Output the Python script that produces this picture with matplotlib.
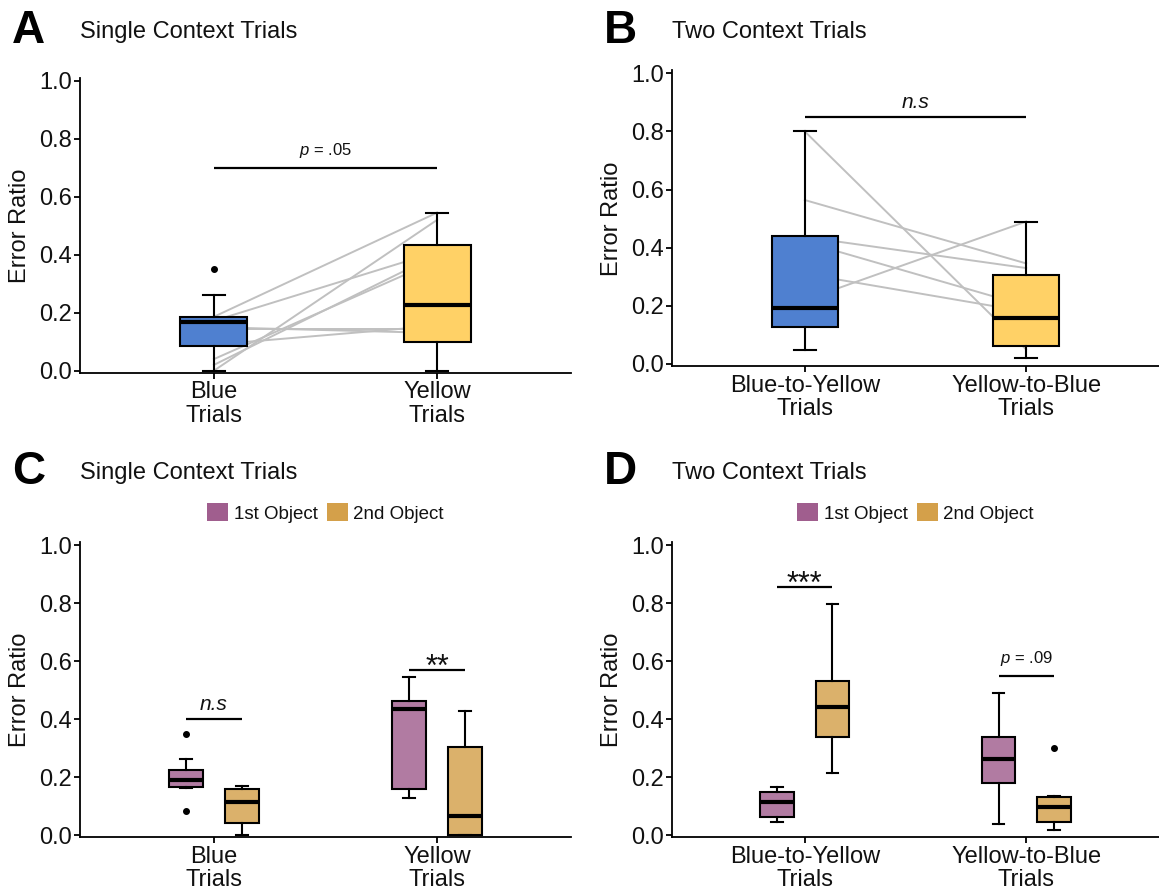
import matplotlib
matplotlib.use('Agg')
import matplotlib.pyplot as plt
from matplotlib.patches import Patch

plt.rcParams['font.family'] = ['Liberation Sans', 'DejaVu Sans']
plt.rcParams['mathtext.fontset'] = 'custom'
plt.rcParams['mathtext.it'] = 'Liberation Sans:italic'
plt.rcParams['mathtext.rm'] = 'Liberation Sans'

# ---------------- Data ----------------
# Panel A: Single context trials
a_categories = ['Blue\nTrials', 'Yellow\nTrials']
a_q1 = [0.086, 0.098]
a_med = [0.168, 0.226]
a_q3 = [0.186, 0.433]
a_whislo = [0.0, 0.0]
a_whishi = [0.261, 0.545]
a_fliers = [[0.351], []]
a_pair_blue = [0.186, 0.0, 0.172, 0.02, 0.04, 0.15, 0.145, 0.09]
a_pair_yellow = [0.545, 0.52, 0.41, 0.40, 0.38, 0.13, 0.145, 0.155]

# Panel B: Two context trials
b_categories = ['Blue-to-Yellow\nTrials', 'Yellow-to-Blue\nTrials']
b_q1 = [0.128, 0.062]
b_med = [0.192, 0.157]
b_q3 = [0.440, 0.306]
b_whislo = [0.048, 0.020]
b_whishi = [0.800, 0.490]
b_fliers = [[], []]
b_pair_first = [0.80, 0.564, 0.437, 0.42, 0.31, 0.22]
b_pair_second = [0.05, 0.346, 0.33, 0.20, 0.18, 0.49]

# Panel C: Single context trials by object
c_categories = ['Blue\nTrials', 'Yellow\nTrials']
c_first_q1 = [0.167, 0.157]
c_first_med = [0.190, 0.434]
c_first_q3 = [0.224, 0.463]
c_first_whislo = [0.163, 0.129]
c_first_whishi = [0.261, 0.544]
c_first_fliers = [[0.348, 0.083], []]
c_second_q1 = [0.040, 0.0]
c_second_med = [0.113, 0.066]
c_second_q3 = [0.157, 0.302]
c_second_whislo = [0.0, 0.0]
c_second_whishi = [0.170, 0.428]
c_second_fliers = [[], []]

# Panel D: Two context trials by object
d_categories = ['Blue-to-Yellow\nTrials', 'Yellow-to-Blue\nTrials']
d_first_q1 = [0.061, 0.180]
d_first_med = [0.115, 0.262]
d_first_q3 = [0.149, 0.337]
d_first_whislo = [0.044, 0.037]
d_first_whishi = [0.167, 0.491]
d_first_fliers = [[], []]
d_second_q1 = [0.339, 0.044]
d_second_med = [0.440, 0.098]
d_second_q3 = [0.532, 0.130]
d_second_whislo = [0.213, 0.017]
d_second_whishi = [0.797, 0.134]
d_second_fliers = [[], [0.299]]

series_labels = ['1st Object', '2nd Object']

# significance annotations: (x1, x2, line y, label)
a_sig = [(1, 2, 0.70, 'p = .05')]
b_sig = [(1, 2, 0.849, 'n.s')]
c_sig = [(1, 1, 0.40, 'n.s'), (2, 2, 0.569, '**')]
d_sig = [(1, 1, 0.856, '***'), (2, 2, 0.548, 'p = .09')]

# ---------------- Style ----------------
BLUE = '#4F80D0'
YELLOW = '#FFD166'
PURPLE = '#A05E8E'
GOLD = '#D4A04A'
GRAY = '#C0C0C0'
TXT = '#111111'
FS = 17

W, H = 1159, 892
fig = plt.figure(figsize=(W / 100, H / 100), dpi=100)


def make_axes(left_px, zero_px, unit_px, right_px, label_x_px):
    ylo, yhi = -0.008, 1.01
    bottom_px = zero_px - ylo * unit_px
    top_px = zero_px - yhi * unit_px
    width_px = right_px - left_px
    ax = fig.add_axes([left_px / W, 1 - bottom_px / H,
                       width_px / W, (bottom_px - top_px) / H])
    ax.set_ylim(ylo, yhi)
    ax.set_xlim(0.4, 2.6)
    for s in ['top', 'right']:
        ax.spines[s].set_visible(False)
    for s in ['left', 'bottom']:
        ax.spines[s].set_linewidth(1.3)
    ax.tick_params(axis='both', which='major', length=4, width=1.3,
                   labelsize=FS, color='black', labelcolor=TXT)
    ax.tick_params(axis='y', pad=2)
    ax.tick_params(axis='x', pad=2)
    ax.set_yticks([0.0, 0.2, 0.4, 0.6, 0.8, 1.0])
    ax.set_yticklabels(['0.0', '0.2', '0.4', '0.6', '0.8', '1.0'])
    ax.set_ylabel('Error Ratio', fontsize=FS, color=TXT)
    ax.yaxis.set_label_coords((label_x_px - left_px) / width_px, 0.5)
    return ax


def draw_boxes(ax, positions, q1, med, q3, lo, hi, fl, color, width, capw, alpha=1.0):
    stats = [dict(q1=a, med=m, q3=b, whislo=l, whishi=h, fliers=f)
             for a, m, b, l, h, f in zip(q1, med, q3, lo, hi, fl)]
    bp = ax.bxp(stats, positions=positions, widths=width, capwidths=capw,
                patch_artist=True, manage_ticks=False, zorder=3,
                boxprops=dict(edgecolor='black', linewidth=1.5),
                medianprops=dict(color='black', linewidth=3.0, solid_capstyle='butt'),
                whiskerprops=dict(color='black', linewidth=1.5),
                capprops=dict(color='black', linewidth=1.5),
                flierprops=dict(marker='o', markerfacecolor='black',
                                markeredgecolor='black', markersize=4))
    for b in bp['boxes']:
        b.set_facecolor(matplotlib.colors.to_rgba(color, alpha))
    return bp


def sig(ax, x1, x2, y, label, unit_px):
    ax.plot([x1, x2], [y, y], color='black', lw=1.6, zorder=4, solid_capstyle='butt')
    xc = (x1 + x2) / 2
    if label.startswith('*'):
        ax.text(xc, y - 6 / unit_px, label, ha='center', va='baseline', fontsize=22,
                color=TXT, zorder=5)
    elif label.startswith('p'):
        ax.text(xc, y + 0.06, r'$\it{p}$' + label[1:], ha='center', va='center',
                fontsize=12, color=TXT, zorder=5)
    else:
        ax.text(xc, y + 0.05, label, ha='center', va='center', fontsize=15,
                fontstyle='italic', color=TXT, zorder=5)


def title(x_px, y_px, letter, text):
    fig.text((x_px - 68) / W, 1 - (y_px - 1) / H, letter, fontsize=33, fontweight='bold',
             ha='left', va='center')
    fig.text(x_px / W, 1 - y_px / H, text, fontsize=FS, ha='left', va='center',
             color=TXT)


# ---------------- Panel A ----------------
axA = make_axes(80, 370.7, 290, 571, 31)
for yb, yy in zip(a_pair_blue, a_pair_yellow):
    axA.plot([1, 2], [yb, yy], color=GRAY, lw=1.4, zorder=2)
bpA = draw_boxes(axA, [1, 2], a_q1, a_med, a_q3, a_whislo, a_whishi, a_fliers,
                 BLUE, 0.3, 0.1)
bpA['boxes'][1].set_facecolor(YELLOW)
axA.set_xticks([1, 2])
axA.set_xticklabels(a_categories, linespacing=1.1)
for x1, x2, y, lab in a_sig:
    sig(axA, x1, x2, y, lab, 290)
title(80, 32, 'A', 'Single Context Trials')

# ---------------- Panel B ----------------
axB = make_axes(672, 364, 290.7, 1159, 623)
for y1, y2 in zip(b_pair_first, b_pair_second):
    axB.plot([1, 2], [y1, y2], color=GRAY, lw=1.4, zorder=2)
bpB = draw_boxes(axB, [1, 2], b_q1, b_med, b_q3, b_whislo, b_whishi, b_fliers,
                 BLUE, 0.3, 0.1)
bpB['boxes'][1].set_facecolor(YELLOW)
axB.set_xticks([1, 2])
axB.set_xticklabels(b_categories, linespacing=1.1)
for x1, x2, y, lab in b_sig:
    sig(axB, x1, x2, y, lab, 290.7)
title(672, 32, 'B', 'Two Context Trials')

# ---------------- Panel C ----------------
off, bw, cw = 0.125, 0.152, 0.052
axC = make_axes(80, 835, 290, 571, 31)
draw_boxes(axC, [1 - off, 2 - off], c_first_q1, c_first_med, c_first_q3,
           c_first_whislo, c_first_whishi, c_first_fliers, PURPLE, bw, cw, 0.82)
draw_boxes(axC, [1 + off, 2 + off], c_second_q1, c_second_med, c_second_q3,
           c_second_whislo, c_second_whishi, c_second_fliers, GOLD, bw, cw, 0.82)
axC.set_xticks([1, 2])
axC.set_xticklabels(c_categories, linespacing=1.1)
for x1, x2, y, lab in c_sig:
    sig(axC, x1 - off, x2 + off, y, lab, 290)
title(80, 473, 'C', 'Single Context Trials')

# ---------------- Panel D ----------------
axD = make_axes(672, 835, 290, 1159, 623)
draw_boxes(axD, [1 - off, 2 - off], d_first_q1, d_first_med, d_first_q3,
           d_first_whislo, d_first_whishi, d_first_fliers, PURPLE, bw, cw, 0.82)
draw_boxes(axD, [1 + off, 2 + off], d_second_q1, d_second_med, d_second_q3,
           d_second_whislo, d_second_whishi, d_second_fliers, GOLD, bw, cw, 0.82)
axD.set_xticks([1, 2])
axD.set_xticklabels(d_categories, linespacing=1.1)
for x1, x2, y, lab in d_sig:
    sig(axD, x1 - off, x2 + off, y, lab, 290)
title(672, 473, 'D', 'Two Context Trials')

# legends
for ax in (axC, axD):
    handles = [Patch(facecolor=PURPLE, edgecolor='none', label=series_labels[0]),
               Patch(facecolor=GOLD, edgecolor='none', label=series_labels[1])]
    ax.legend(handles=handles, loc='center', bbox_to_anchor=(0.5, 1.099), ncol=2,
              frameon=False, fontsize=13.5, handlelength=1.1, handleheight=1.1,
              handletextpad=0.3, columnspacing=0.5, borderaxespad=0,
              labelcolor=TXT)

fig.savefig('out.png', dpi=100)
